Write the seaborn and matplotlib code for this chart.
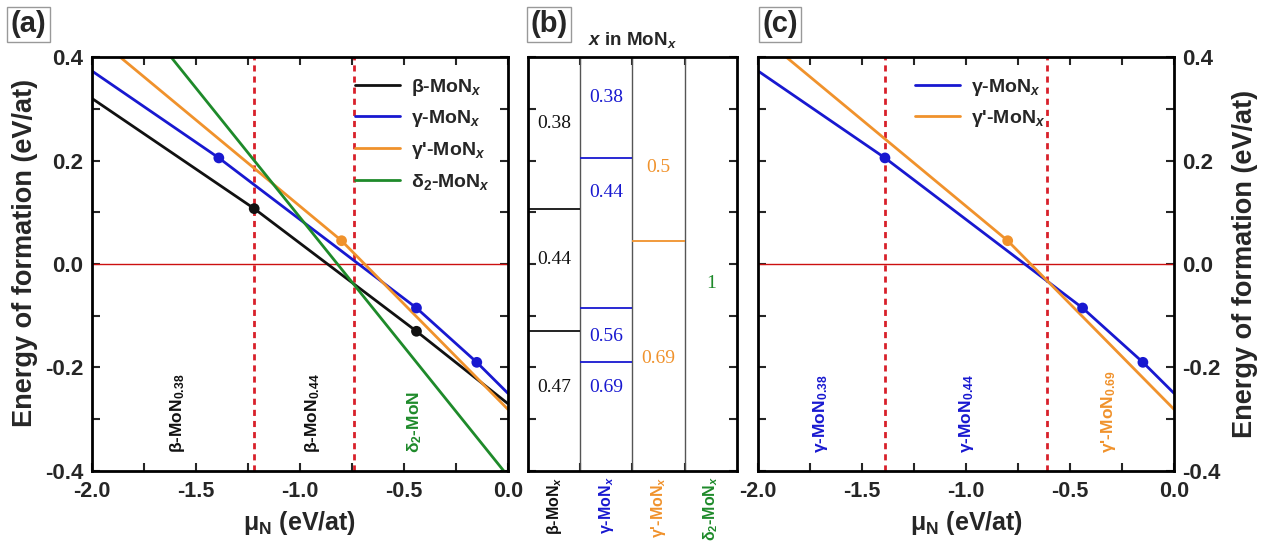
import matplotlib
matplotlib.use("Agg")
import matplotlib.pyplot as plt
from matplotlib.ticker import MultipleLocator, FormatStrFormatter
import seaborn as sns
import pandas as pd

# ---------------- data ----------------
mu_beta = [-2.0, -1.22, -0.44, 0.0]
E_beta = [0.32, 0.107, -0.13, -0.27]
mu_gamma = [-2.0, -1.39, -0.44, -0.15, 0.0]
E_gamma = [0.373, 0.205, -0.085, -0.19, -0.25]
mu_gammap = [-2.0, -0.80, 0.0]
E_gammap = [0.445, 0.045, -0.281]
mu_delta = [-2.0, 0.0]
E_delta = [0.59, -0.41]

kink_mu_beta = [-1.22, -0.44]
kink_E_beta = [0.107, -0.13]
kink_mu_gamma = [-1.39, -0.44, -0.15]
kink_E_gamma = [0.205, -0.085, -0.19]
kink_mu_gammap = [-0.80]
kink_E_gammap = [0.045]

bounds_a = [-1.22, -0.74]
bounds_c = [-1.39, -0.61]

phases = ["β-MoN$_x$", "γ-MoN$_x$", "γ'-MoN$_x$", "δ$_2$-MoN$_x$"]
comp_beta = ["0.38", "0.44", "0.47"]
comp_gamma = ["0.38", "0.44", "0.56", "0.69"]
comp_gammap = ["0.5", "0.69"]
comp_delta = ["1"]

regions_a = ["β-MoN$_{0.38}$", "β-MoN$_{0.44}$", "δ$_2$-MoN"]
regions_c = ["γ-MoN$_{0.38}$", "γ-MoN$_{0.44}$", "γ'-MoN$_{0.69}$"]

# ---------------- layout / style ----------------
C_BETA, C_GAMMA, C_GAMMAP, C_DELTA = "#111111", "#1818d0", "#f0922c", "#1e8a2a"
C_RED = "#d8202a"

sns.set_theme(style="ticks")
plt.rcParams["font.family"] = ["Liberation Sans", "DejaVu Sans"]
plt.rcParams["font.weight"] = "bold"
plt.rcParams["axes.labelweight"] = "bold"
plt.rcParams["axes.unicode_minus"] = False
plt.rcParams["mathtext.fontset"] = "custom"
plt.rcParams["mathtext.rm"] = "Liberation Sans:bold"
plt.rcParams["mathtext.it"] = "Liberation Sans:italic:bold"
plt.rcParams["mathtext.bf"] = "Liberation Sans:bold"

fig = plt.figure(figsize=(12.7, 5.44), dpi=100)
axA = fig.add_axes([0.0724, 0.1342, 0.3276, 0.7610])
axB = fig.add_axes([0.4157, 0.1342, 0.1646, 0.7610])
axC = fig.add_axes([0.5969, 0.1342, 0.3276, 0.7610])


def df(x, y):
    return pd.DataFrame({"mu": x, "E": y})


def style_main(ax):
    ax.set_xlim(-2.0, 0.0)
    ax.set_ylim(-0.4, 0.4)
    ax.xaxis.set_major_locator(MultipleLocator(0.5))
    ax.xaxis.set_minor_locator(MultipleLocator(0.25))
    ax.yaxis.set_major_locator(MultipleLocator(0.2))
    ax.yaxis.set_minor_locator(MultipleLocator(0.1))
    ax.xaxis.set_major_formatter(FormatStrFormatter("%.1f"))
    ax.yaxis.set_major_formatter(FormatStrFormatter("%.1f"))
    ax.tick_params(which="both", direction="in", top=True, right=True,
                   length=6, width=1.5)
    ax.tick_params(axis="x", which="major", pad=7, labelsize=15.5)
    ax.tick_params(axis="y", which="major", pad=6, labelsize=16)
    for s in ax.spines.values():
        s.set_linewidth(2)
        s.set_color("black")
    ax.set_xlabel("μ$_{\\mathrm{N}}$ (eV/at)", fontsize=18, labelpad=5)
    ax.set_ylabel("Energy of formation (eV/at)", fontsize=19.5)
    ax.axhline(0, color="#cc1010", lw=1, zorder=1)


def draw_lines(ax, series):
    for x, y, c, lab in series:
        sns.lineplot(data=df(x, y), x="mu", y="E", ax=ax, color=c, lw=2,
                     sort=False, estimator=None, label=lab)


def draw_dots(ax, dots):
    for x, y, c in dots:
        sns.scatterplot(data=df(x, y), x="mu", y="E", ax=ax, color=c, s=60,
                        edgecolor="none", zorder=5, legend=False)


# ---------------- panel (a) ----------------
for b in bounds_a:
    axA.axvline(b, color=C_RED, ls=(0, (2.2, 1.8)), lw=2, zorder=2)
draw_lines(axA, [(mu_beta, E_beta, C_BETA, phases[0]),
                 (mu_gamma, E_gamma, C_GAMMA, phases[1]),
                 (mu_gammap, E_gammap, C_GAMMAP, phases[2]),
                 (mu_delta, E_delta, C_DELTA, phases[3])])
draw_dots(axA, [(kink_mu_beta, kink_E_beta, C_BETA),
                (kink_mu_gamma, kink_E_gamma, C_GAMMA),
                (kink_mu_gammap, kink_E_gammap, C_GAMMAP)])
style_main(axA)
axA.yaxis.set_label_coords(-0.13, 0.527)
axA.legend(loc="upper right", bbox_to_anchor=(1.0, 0.995), frameon=False,
           fontsize=14, handlelength=2.3, labelspacing=0.55, handletextpad=0.6)
for xpos, txt, c in zip([-1.587, -0.942, -0.447], regions_a,
                        [C_BETA, C_BETA, C_DELTA]):
    axA.text(xpos, -0.365, txt, rotation=90, rotation_mode="anchor",
             ha="left", va="center", color=c, fontsize=12.5)

# ---------------- panel (b) ----------------
axB.set_xlim(0, 4)
axB.set_ylim(-0.4, 0.4)
for xd in [1, 2, 3]:
    axB.axvline(xd, color="#555555", lw=1)
for i, (kE, c) in enumerate([(kink_E_beta, C_BETA), (kink_E_gamma, C_GAMMA),
                              (kink_E_gammap, C_GAMMAP)]):
    axB.hlines(kE, i, i + 1, color=c, lw=1.3)
label_y = [[0.272, 0.008, -0.238],
           [0.321, 0.139, -0.141, -0.238],
           [0.187, -0.182],
           [-0.037]]
for i, (comps, c) in enumerate([(comp_beta, C_BETA), (comp_gamma, C_GAMMA),
                                 (comp_gammap, C_GAMMAP), (comp_delta, C_DELTA)]):
    for txt, yy in zip(comps, label_y[i]):
        axB.text(i + 0.5, yy, txt, ha="center", va="center", color=c,
                 fontsize=14, family=["Liberation Serif"], fontweight="normal")
axB.set_xticks([1, 2, 3])
axB.set_xticklabels([])
axB.yaxis.set_major_locator(MultipleLocator(0.1))
axB.set_yticklabels([])
axB.tick_params(which="both", direction="in", top=True, right=True,
                length=6, width=1.5)
for s in axB.spines.values():
    s.set_linewidth(2)
    s.set_color("black")
axB.set_xlabel("")
axB.set_ylabel("")
for i, (txt, c) in enumerate(zip(phases, [C_BETA, C_GAMMA, C_GAMMAP, C_DELTA])):
    axB.text(i + 0.5, -0.41, txt, rotation=90, ha="center", va="top",
             color=c, fontsize=11.5, clip_on=False)
axB.text(0.5, 1.041, "$x$ in MoN$_x$", transform=axB.transAxes, ha="center",
         va="center", fontsize=13.5)

# ---------------- panel (c) ----------------
for b in bounds_c:
    axC.axvline(b, color=C_RED, ls=(0, (2.2, 1.8)), lw=2, zorder=2)
draw_lines(axC, [(mu_gamma, E_gamma, C_GAMMA, phases[1]),
                 (mu_gammap, E_gammap, C_GAMMAP, phases[2])])
draw_dots(axC, [(kink_mu_gamma, kink_E_gamma, C_GAMMA),
                (kink_mu_gammap, kink_E_gammap, C_GAMMAP)])
style_main(axC)
axC.yaxis.tick_right()
axC.tick_params(which="both", left=True, right=True, labelleft=False,
                labelright=True)
axC.yaxis.set_label_position("right")
axC.set_ylabel("Energy of formation (eV/at)", fontsize=19.5, rotation=90,
               labelpad=8)
axC.legend(loc="upper left", bbox_to_anchor=(0.335, 0.995), frameon=False,
           fontsize=14, handlelength=2.3, labelspacing=0.55, handletextpad=0.6)
for xpos, txt, c in zip([-1.70, -0.997, -0.317], regions_c,
                        [C_GAMMA, C_GAMMA, C_GAMMAP]):
    axC.text(xpos, -0.365, txt, rotation=90, rotation_mode="anchor",
             ha="left", va="center", color=c, fontsize=12.5)

# ---------------- panel tags ----------------
for xf, tag in [(0.0085, "(a)"), (0.4175, "(b)"), (0.6000, "(c)")]:
    fig.text(xf, 0.955, tag, fontsize=21, ha="left", va="center",
             bbox=dict(boxstyle="square,pad=0.12", facecolor="white",
                       edgecolor="#999999", lw=1))

fig.savefig("out.png", dpi=100)
